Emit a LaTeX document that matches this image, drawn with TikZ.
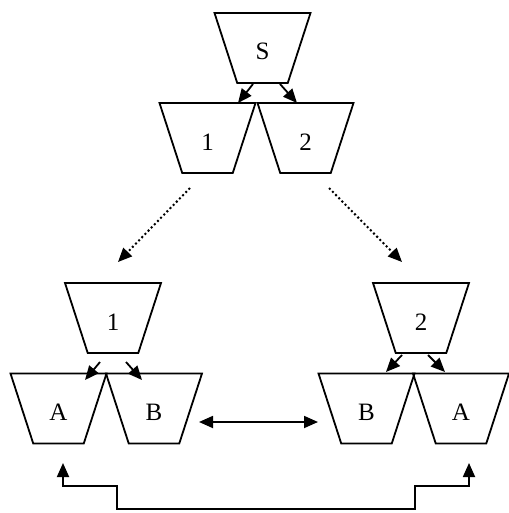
\documentclass[tikz,border=0pt]{standalone}
\usepackage{fontspec}
\setmainfont{Liberation Serif}
\usetikzlibrary{shapes.geometric, arrows.meta}

\tikzset{
  hopper/.style={draw, line width=1.8pt, trapezium, shape border rotate=180,
    trapezium angle=72, trapezium stretches body, minimum width=96pt,
    inner sep=0pt, font=\fontsize{25}{25}\selectfont,
    text height=47pt, text depth=23pt},
  tip/.style={Triangle[length=14pt, width=12pt]},
  feed/.style={line width=1.8pt, -{Triangle[length=14pt, width=12pt]}},
  twofeed/.style={line width=1.8pt, {Triangle[length=14pt, width=12pt]}-{Triangle[length=14pt, width=12pt]}},
  dotfeed/.style={feed, line width=2pt, dash pattern=on 2pt off 2.5pt},
}

\begin{document}
\begin{tikzpicture}[x=1pt, y=-1pt]
  \useasboundingbox (0,0) rectangle (508,513);

  % Source split
  \node[hopper] (src) at (262.5,48) {S};
  \node[hopper] (top1) at (207.5,138) {1};
  \node[hopper] (top2) at (305.5,138) {2};
  \draw[feed] ([shift={(-9.5,36)}]src.center) -- ([shift={(30.5,-35)}]top1.center);
  \draw[feed] ([shift={(17.5,36)}]src.center) -- ([shift={(-8.5,-35)}]top2.center);

  % Left group
  \node[hopper] (left1) at (113,318) {1};
  \node[hopper] (leftA) at (58.5,408.5) {A};
  \node[hopper] (leftB) at (154,408.5) {B};
  \draw[feed] ([shift={(-13,44)}]left1.center) -- ([shift={(26.5,-28.5)}]leftA.center);
  \draw[feed] ([shift={(13,44)}]left1.center) -- ([shift={(-12,-28.5)}]leftB.center);

  % Right group
  \node[hopper] (right2) at (421,318) {2};
  \node[hopper] (rightB) at (366.5,408.5) {B};
  \node[hopper] (rightA) at (461,408.5) {A};
  \draw[feed] ([shift={(-19,37)}]right2.center) -- ([shift={(19.5,-36.5)}]rightB.center);
  \draw[feed] ([shift={(7,37)}]right2.center) -- ([shift={(-16,-36.5)}]rightA.center);

  % Dotted transfers
  \draw[dotfeed] ([shift={(-17.5,50)}]top1.center) -- ([shift={(5,-56)}]left1.center);
  \draw[dotfeed] ([shift={(23.5,50)}]top2.center) -- ([shift={(-19,-56)}]right2.center);

  % B to B exchange
  \draw[twofeed] ([shift={(45,13.5)}]leftB.center) -- ([shift={(-48.5,13.5)}]rightB.center);

  % A to A return loop
  \draw[twofeed] ([shift={(4.5,54.5)}]leftA.center) -- ++(0,23) -- ++(54,0) -- ++(0,23)
    -- ++(298,0) -- ++(0,-23) -- ++(54,0) -- ++(0,-23);
\end{tikzpicture}
\end{document}
